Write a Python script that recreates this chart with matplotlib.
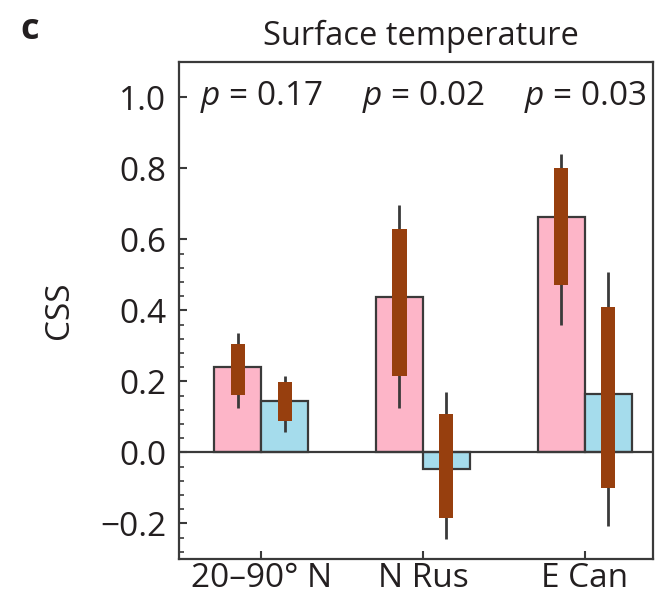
import matplotlib
matplotlib.use("Agg")
import matplotlib.pyplot as plt
from matplotlib.ticker import FixedLocator
import numpy as np

plt.rcParams['font.family'] = ['Open Sans', 'DejaVu Sans']
plt.rcParams['mathtext.fontset'] = 'custom'
plt.rcParams['mathtext.it'] = 'Open Sans:italic'
plt.rcParams['mathtext.rm'] = 'Open Sans'

regions = ["20\u201390\u00b0 N", "N Rus", "E Can"]
p_values = ["0.17", "0.02", "0.03"]

# Bar values (CSS) for the two experiments
pink_vals = [0.240, 0.439, 0.663]
blue_vals = [0.145, -0.046, 0.165]

# Inner (thick) ranges and outer (thin) ranges
pink_inner_lo = [0.163, 0.215, 0.471]
pink_inner_hi = [0.306, 0.628, 0.802]
pink_outer_lo = [0.126, 0.124, 0.359]
pink_outer_hi = [0.335, 0.697, 0.839]

blue_inner_lo = [0.088, -0.184, -0.101]
blue_inner_hi = [0.199, 0.109, 0.410]
blue_outer_lo = [0.057, -0.245, -0.208]
blue_outer_hi = [0.215, 0.170, 0.508]

pink = "#FDB5C8"
blue = "#A5DCEC"
brown = "#973F0E"
edge = "#3a3a3a"
txt = "#231F20"

fig = plt.figure(figsize=(6.64, 6.02), dpi=100)
ax = fig.add_axes([0.269, 0.0714, 0.714, 0.826])

x = np.arange(len(regions))
w = 0.29
box_w = 0.087

xp = x - w / 2
xb = x + w / 2
ax.bar(xp, pink_vals, width=w, color=pink, edgecolor=edge, linewidth=1.6, zorder=2)
ax.bar(xb, blue_vals, width=w, color=blue, edgecolor=edge, linewidth=1.6, zorder=2)

for xs, lo, hi, ilo, ihi in [(xp, pink_outer_lo, pink_outer_hi, pink_inner_lo, pink_inner_hi),
                             (xb, blue_outer_lo, blue_outer_hi, blue_inner_lo, blue_inner_hi)]:
    ax.vlines(xs, lo, hi, colors=edge, linewidth=2.0, zorder=3)
    ax.bar(xs, np.array(ihi) - np.array(ilo), bottom=ilo, width=box_w,
           color=brown, edgecolor="none", zorder=4)

ax.axhline(0, color=edge, linewidth=1.6, zorder=3)

ax.set_xlim(-0.51, 2.42)
ax.set_ylim(-0.3, 1.1)
ax.set_xticks(x)
ax.set_xticklabels(regions)
ax.set_yticks([-0.2, 0.0, 0.2, 0.4, 0.6, 0.8, 1.0])
ax.set_yticklabels(["\u22120.2", "0.0", "0.2", "0.4", "0.6", "0.8", "1.0"])
ax.yaxis.set_minor_locator(FixedLocator(np.round(np.arange(-0.28, 0.61, 0.04), 2)))

ax.tick_params(axis='both', which='major', direction='in', length=6, width=1.5,
               labelsize=24, colors=edge, labelcolor=txt, pad=9)
ax.tick_params(axis='y', which='minor', direction='in', length=3.5, width=1.2, colors=edge)
ax.tick_params(axis='x', pad=2)
for s in ax.spines.values():
    s.set_linewidth(1.6)
    s.set_color(edge)

ax.set_ylabel("CSS", fontsize=24, color=txt, labelpad=17)
ax.set_title("Surface temperature", fontsize=23.5, color=txt, pad=12, x=0.512)

for xi, pv in zip(x, p_values):
    ax.text(xi, 1.0, r"$\it{p}$ = " + pv, ha='center', va='center', fontsize=24, color=txt)

fig.text(0.045, 0.95, "c", fontsize=26, fontweight='bold', color=txt, ha='center', va='center')

fig.savefig("out.png", dpi=100)
